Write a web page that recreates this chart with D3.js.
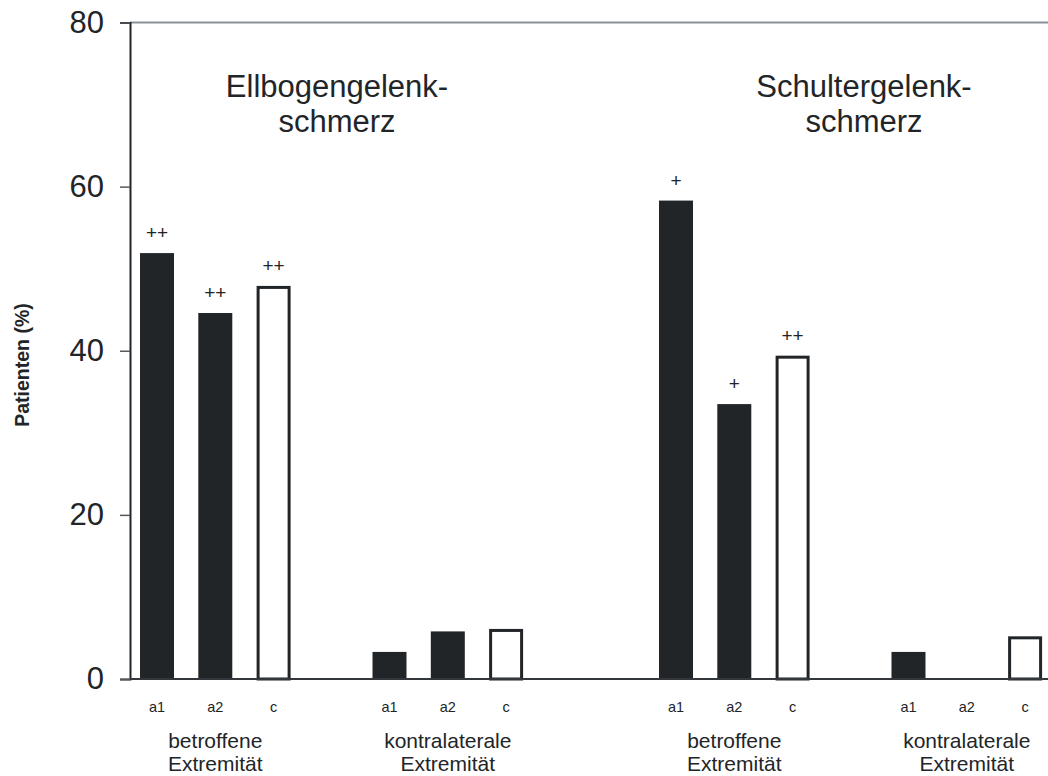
<!DOCTYPE html>
<html>
<head>
<meta charset="utf-8">
<script src="https://cdn.jsdelivr.net/npm/d3@7/dist/d3.min.js"></script>
<style>
  body { margin: 0; background: #fff; }
  svg { display: block; font-family: "Liberation Sans", Arial, sans-serif; }
</style>
</head>
<body>
<div id="chart"></div>
<script>
// data
var joints = ["Ellbogengelenk-schmerz", "Schultergelenk-schmerz"]
var sides = ["betroffene Extremität", "kontralaterale Extremität"]
var groups = ["a1", "a2", "c"]
var yTicks = [0, 20, 40, 60, 80]

// values per joint, per side, per group (%)
var ellbogenBetroffen = [51.9, 44.6, 47.9]
var ellbogenKontra = [3.3, 5.8, 6.1]
var schulterBetroffen = [58.3, 33.5, 39.4]
var schulterKontra = [3.3, 0, 5.2]

var ellbogenMarks = ["++", "++", "++"]
var schulterMarks = ["+", "+", "++"]

var width = 1048
var height = 776

var svg = d3.select('#chart')
            .append('svg')
            .attr('width', width)
            .attr('height', height)

var yScale = d3.scaleLinear()
                .domain([0, 80])
                .range([679, 22.5])

// nested x scales: joint -> side -> group
var jointX = d3.scalePoint().domain(joints).range([140, 659])
var sideX = d3.scalePoint().domain(sides).range([0, 232.5])
var groupX = d3.scaleBand()
                .domain(groups)
                .range([0, 150.6])
                .paddingInner(0.417)
                .paddingOuter(0)

var rows = []
function addRow(joint, side, values, marks) {
    values.forEach((v, i) => {
        rows.push({ joint: joint, side: side, group: groups[i], value: v, mark: marks ? marks[i] : "" })
    })
}
addRow(joints[0], sides[0], ellbogenBetroffen, ellbogenMarks)
addRow(joints[0], sides[1], ellbogenKontra, null)
addRow(joints[1], sides[0], schulterBetroffen, schulterMarks)
addRow(joints[1], sides[1], schulterKontra, null)

function barX(d) { return jointX(d.joint) + sideX(d.side) + groupX(d.group) }

var ink = "#222528"

// frame: top line
svg.append('line')
    .attr('x1', 130).attr('x2', width)
    .attr('y1', yScale(80)).attr('y2', yScale(80))
    .attr('stroke', '#8a9299')
    .attr('stroke-width', 2)

// bars
svg.selectAll('.bar')
    .data(rows.filter(d => d.value > 0))
    .enter()
    .append('rect')
    .attr('class', 'bar')
    .attr('x', d => d.group === 'c' ? barX(d) + 1.5 : barX(d))
    .attr('y', d => d.group === 'c' ? yScale(d.value) + 1.5 : yScale(d.value))
    .attr('width', d => d.group === 'c' ? groupX.bandwidth() - 3 : groupX.bandwidth())
    .attr('height', d => d.group === 'c' ? yScale(0) - yScale(d.value) - 1.5 : yScale(0) - yScale(d.value))
    .attr('fill', d => d.group === 'c' ? '#fff' : ink)
    .attr('stroke', d => d.group === 'c' ? ink : 'none')
    .attr('stroke-width', 3)

// significance marks
svg.selectAll('.mark')
    .data(rows.filter(d => d.mark))
    .enter()
    .append('text')
    .attr('class', 'mark')
    .attr('x', d => barX(d) + groupX.bandwidth() / 2)
    .attr('y', d => yScale(d.value) - 14)
    .attr('text-anchor', 'middle')
    .attr('font-size', 19)
    .attr('fill', ink)
    .text(d => d.mark)

// y axis
var yAxis = d3.axisLeft(yScale)
                .tickValues(yTicks)
                .tickSize(10)
                .tickPadding(16)
var yG = svg.append('g')
            .attr('transform', 'translate(130,0)')
            .call(yAxis)
yG.select('.domain').attr('stroke', ink).attr('stroke-width', 2)
yG.selectAll('.tick line').attr('stroke', '#555a60').attr('stroke-width', 1.5)
yG.selectAll('.tick text')
    .attr('font-size', 31)
    .attr('font-family', '"Liberation Sans", Arial, sans-serif')
    .attr('fill', ink)

// baseline
svg.append('line')
    .attr('x1', 130).attr('x2', width)
    .attr('y1', yScale(0)).attr('y2', yScale(0))
    .attr('stroke', '#33373b')
    .attr('stroke-width', 2)

// y label
svg.append('text')
    .attr('transform', `translate(${29},${365})rotate(-90)`)
    .attr('text-anchor', 'middle')
    .attr('font-size', 19.5)
    .attr('font-weight', 'bold')
    .attr('fill', ink)
    .text('Patienten (%)')

// group tick labels a1 a2 c
svg.selectAll('.glabel')
    .data(rows)
    .enter()
    .append('text')
    .attr('class', 'glabel')
    .attr('x', d => barX(d) + groupX.bandwidth() / 2)
    .attr('y', 712)
    .attr('text-anchor', 'middle')
    .attr('font-size', 14.5)
    .attr('fill', ink)
    .text(d => d.group)

// side labels (two lines)
joints.forEach(j => {
    sides.forEach(s => {
        var cx = jointX(j) + sideX(s) + groupX('a2') + groupX.bandwidth() / 2
        var t = svg.append('text')
                    .attr('text-anchor', 'middle')
                    .attr('font-size', 21)
                    .attr('fill', ink)
        s.split(' ').forEach((w, i) => {
            t.append('tspan')
                .attr('x', cx)
                .attr('y', 748 + i * 22.5)
                .text(w)
        })
    })
})

// joint titles
joints.forEach((j, k) => {
    var cx = [337, 864][k]
    var parts = j.split('-')
    var t = svg.append('text')
                .attr('text-anchor', 'middle')
                .attr('font-size', 31)
                .attr('fill', ink)
    t.append('tspan').attr('x', cx).attr('y', 97).text(parts[0] + '-')
    t.append('tspan').attr('x', cx).attr('y', 132).text(parts[1])
})
</script>
</body>
</html>
